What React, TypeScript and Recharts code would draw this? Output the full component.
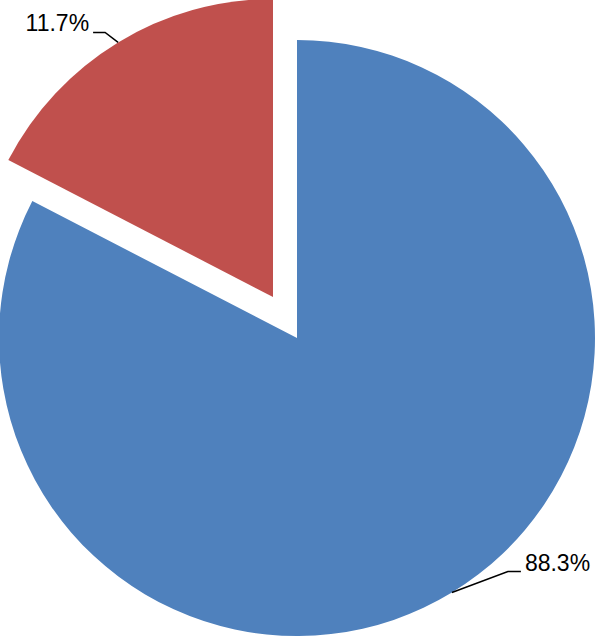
import React from "react";
import { PieChart, Pie, Cell } from "recharts";

// slice shares as drawn (angles), and the printed labels
const sliceNames = ["Main", "Other"];
const sliceShares = [82.6, 17.4];
const labelTexts = ["88.3%", "11.7%"];
const sliceColors = ["#4F81BD", "#C0504D"];

const data = sliceNames.map((name, i) => ({ name, value: sliceShares[i] }));

const RADIAN = Math.PI / 180;

// where the leader line bends, relative to the point on the arc
const elbowOffset = [
  { dx: 56, dy: -21, run: 13 },
  { dx: -13, dy: -10, run: -12 },
];

const makeLabel = (show: number) => (props: any) => {
  const { cx, cy, midAngle, outerRadius, index } = props;
  if (index !== show) return null;
  const px = cx + outerRadius * Math.cos(-midAngle * RADIAN);
  const py = cy + outerRadius * Math.sin(-midAngle * RADIAN);
  const o = elbowOffset[index];
  const ex = px + o.dx;
  const ey = py + o.dy;
  const lx = ex + o.run;
  const right = o.run > 0;
  return (
    <g>
      <polyline
        points={`${px},${py} ${ex},${ey} ${lx},${ey}`}
        fill="none"
        stroke="#000"
        strokeWidth={1.5}
      />
      <text
        x={right ? lx + 4 : lx - 4}
        y={ey - 1}
        textAnchor={right ? "start" : "end"}
        fontFamily="'Liberation Sans', Arial, sans-serif"
        fontSize={23}
        fill="#000"
      >
        {labelTexts[index]}
      </text>
    </g>
  );
};

export default function App() {
  return (
    <div style={{ position: "absolute", left: 0, top: 0, background: "#fff" }}>
      <PieChart
        width={596}
        height={637}
        margin={{ top: 0, right: 0, bottom: 0, left: 0 }}
      >
        <Pie
          data={data}
          dataKey="value"
          cx={297}
          cy={338}
          outerRadius={298}
          startAngle={90}
          endAngle={-270}
          stroke="none"
          label={makeLabel(0)}
          labelLine={false}
          isAnimationActive={false}
        >
          {data.map((d, i) => (
            <Cell key={d.name} fill={i === 0 ? sliceColors[0] : "transparent"} />
          ))}
        </Pie>
        <Pie
          data={data}
          dataKey="value"
          cx={273}
          cy={297}
          outerRadius={298}
          startAngle={90}
          endAngle={-270}
          stroke="none"
          label={makeLabel(1)}
          labelLine={false}
          isAnimationActive={false}
        >
          {data.map((d, i) => (
            <Cell key={d.name} fill={i === 1 ? sliceColors[1] : "transparent"} />
          ))}
        </Pie>
      </PieChart>
    </div>
  );
}
